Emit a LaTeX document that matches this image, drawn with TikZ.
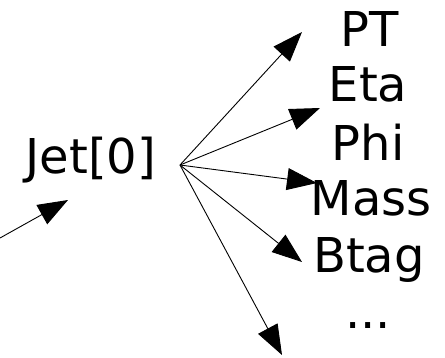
\documentclass[tikz,border=0pt]{standalone}
\usepackage{fontspec}
\setmainfont{DejaVu Sans}
\usetikzlibrary{arrows.meta}
\begin{document}
\begin{tikzpicture}[x=1pt,y=-1pt,
  lbl/.style={anchor=base,inner sep=0pt,font=\fontsize{48}{55}\selectfont},
  conn/.style={line width=0.9pt,-{Triangle[length=30pt,width=22pt]}}]
\useasboundingbox (0,0) rectangle (445,357);
\node[lbl] (jet) at (91,173) {Jet[0]};
\node[lbl] (pt) at (370,46.7) {PT};
\node[lbl] (eta) at (368,101.7) {Eta};
\node[lbl] (phi) at (368,160) {Phi};
\node[lbl] (mass) at (371,215) {Mass};
\node[lbl] (btag) at (369,272) {Btag};
\node[lbl] (dots) at (368,328) {...};
\coordinate (o) at (180,165);
\coordinate (t1) at (302,32);
\coordinate (t2) at (320,108);
\coordinate (t3) at (317,183);
\coordinate (t4) at (302,262);
\coordinate (t5) at (282,355);
\coordinate (ls) at (0,238);
\coordinate (le) at (68,200);
\draw[conn] (o) -- (t1);
\draw[conn] (o) -- (t2);
\draw[conn] (o) -- (t3);
\draw[conn] (o) -- (t4);
\draw[conn] (o) -- (t5);
\draw[conn] (ls) -- (le);
\end{tikzpicture}
\end{document}
